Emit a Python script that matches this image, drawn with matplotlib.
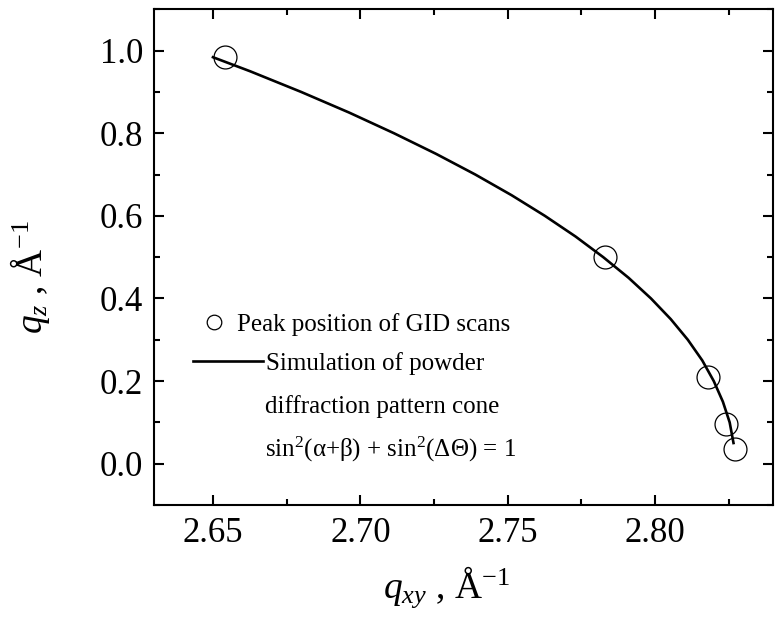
import numpy as np
import matplotlib.pyplot as plt
from matplotlib.ticker import MultipleLocator

plt.rcParams['font.family'] = ['Liberation Serif', 'DejaVu Serif']
plt.rcParams['mathtext.fontset'] = 'custom'
plt.rcParams['mathtext.rm'] = 'Liberation Serif'
plt.rcParams['mathtext.it'] = 'Liberation Serif:italic'

# measured peak positions
peak_qxy = [2.654, 2.783, 2.818, 2.824, 2.827]
peak_qz = [0.984, 0.500, 0.210, 0.095, 0.035]

# simulated cone
sim_qxy = [2.6500, 2.6626, 2.6799, 2.6962, 2.7114, 2.7257, 2.7390, 2.7513, 2.7626,
           2.7730, 2.7824, 2.7910, 2.7986, 2.8053, 2.8111, 2.8160, 2.8199, 2.8230,
           2.8253, 2.8266]
sim_qz = [0.984, 0.950, 0.900, 0.850, 0.800, 0.750, 0.700, 0.650, 0.600,
          0.550, 0.500, 0.450, 0.400, 0.350, 0.300, 0.250, 0.200, 0.150,
          0.100, 0.050]

fig = plt.figure(figsize=(7.79, 6.2), dpi=100)
ax = fig.add_axes([0.1977, 0.1855, 0.7946, 0.7995])

ax.plot(sim_qxy, sim_qz, color='black', lw=1.9)
ax.plot(peak_qxy, peak_qz, 'o', ms=16.5, mfc='none', mec='black', mew=0.9)

ax.set_xlim(2.63, 2.84)
ax.set_ylim(-0.1, 1.1)
ax.xaxis.set_minor_locator(MultipleLocator(0.025))
ax.yaxis.set_minor_locator(MultipleLocator(0.1))
ax.set_xticks([2.65, 2.70, 2.75, 2.80])
ax.set_xticklabels(['2.65', '2.70', '2.75', '2.80'])
ax.set_yticks([0.0, 0.2, 0.4, 0.6, 0.8, 1.0])
ax.set_yticklabels(['0.0', '0.2', '0.4', '0.6', '0.8', '1.0'])

ax.tick_params(which='both', direction='in', top=True, right=True, width=1.5, labelsize=25)
ax.tick_params(which='major', length=7)
ax.tick_params(which='minor', length=4.5)
ax.tick_params(axis='x', pad=9)
ax.tick_params(axis='y', pad=8)
for s in ax.spines.values():
    s.set_linewidth(1.5)

ax.set_xlabel(r'$q_{xy}$ , Å$^{-1}$', fontsize=27)
ax.set_ylabel(r'$q_z$ , Å$^{-1}$', fontsize=27)
ax.xaxis.set_label_coords(0.473, -0.12)
ax.yaxis.set_label_coords(-0.165, 0.46)

# legend
h1, = ax.plot([], [], 'o', ms=10.5, mfc='none', mec='black', mew=0.9)
h2, = ax.plot([], [], color='black', lw=1.9)
leg1 = ax.legend([h1], ['Peak position of GID scans'], loc='center left',
                 bbox_to_anchor=(0.076, 0.365), frameon=False, fontsize=18,
                 handlelength=1.0, handletextpad=0.45, borderpad=0, borderaxespad=0)
ax.add_artist(leg1)
ax.legend([h2], ['Simulation of powder'], loc='center left',
          bbox_to_anchor=(0.063, 0.285), frameon=False, fontsize=18,
          handlelength=2.8, handletextpad=0.1, borderpad=0, borderaxespad=0)
ax.text(0.179, 0.198, 'diffraction pattern cone', transform=ax.transAxes,
        fontsize=18, va='center')
ax.text(0.179, 0.113, r'sin$^2$(α+β) + sin$^2$(ΔΘ) = 1', transform=ax.transAxes,
        fontsize=18, va='center')

fig.savefig('out.png', dpi=100)
